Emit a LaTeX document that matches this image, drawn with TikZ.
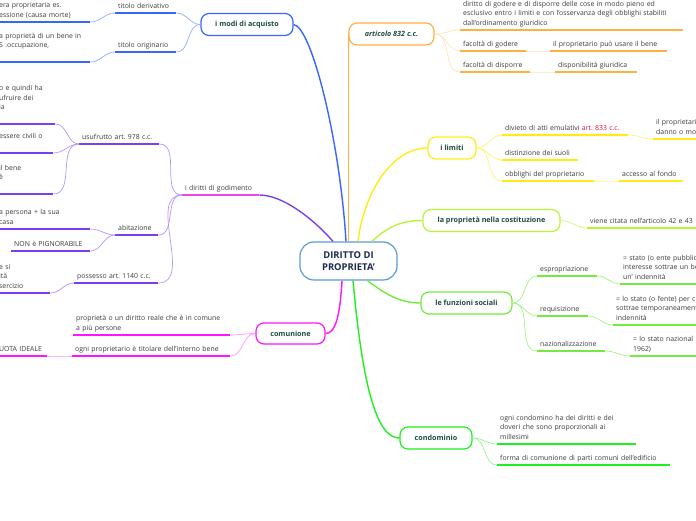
\documentclass[tikz,border=0pt]{standalone}
\usepackage{fontspec}
\setmainfont{Open Sans}
\definecolor{coreblue}{RGB}{91,155,213}
\definecolor{corenavy}{RGB}{26,42,80}
\definecolor{topicgreen}{RGB}{27,77,62}
\definecolor{leafgray}{RGB}{60,60,60}
\definecolor{modiblue}{RGB}{56,100,255}
\definecolor{godviolet}{RGB}{123,63,242}
\definecolor{godpink}{RGB}{238,70,238}
\definecolor{comumag}{RGB}{255,20,255}
\definecolor{artorange}{RGB}{255,176,64}
\definecolor{limyellow}{RGB}{255,236,20}
\definecolor{costlime}{RGB}{182,245,60}
\definecolor{funzgreen}{RGB}{115,235,60}
\definecolor{condgreen}{RGB}{30,240,30}
\definecolor{artred}{RGB}{220,20,60}
\frenchspacing
\begin{document}
\begin{tikzpicture}[x=1pt, y=-1pt,
  topic/.style={draw=#1, line width=1.2pt, rounded corners=8pt, fill=white, minimum height=22pt, inner sep=2pt, font=\fontsize{7.2}{9}\selectfont\bfseries, text=topicgreen},
  leaf/.style={anchor=south west, align=left, inner xsep=3pt, inner ysep=1.8pt, font=\fontsize{6.9}{9.5}\selectfont\frenchspacing, text=leafgray, execute at end node={\strut}},
  uline/.style={draw=#1, line width=2.2pt},
  link/.style={draw=#1, line width=0.7pt},
  trunk/.style={draw=#1, line width=1.4pt}
]
  \useasboundingbox (0,0) rectangle (696,520);
  \clip (0,0) rectangle (696,520);

  % centre
  \node[draw=coreblue, line width=1.2pt, rounded corners=14pt, fill=white, minimum width=97pt, minimum height=38pt, align=center, font=\fontsize{9.4}{12}\selectfont\bfseries, text=corenavy] (core) at (348.5,261) {DIRITTO DI\\PROPRIETA'};

  % topics
  \node[topic=modiblue, minimum width=92pt] (modi) at (247,24.5) {i modi di acquisto};
  \node[topic=comumag, minimum width=69pt, minimum height=21pt] (comu) at (290.5,333.5) {comunione};
  \node[topic=artorange, minimum width=85pt, font=\fontsize{7.2}{9}\selectfont\bfseries\itshape] (art) at (391.5,34) {articolo 832 c.c.};
  \node[topic=limyellow, minimum width=48pt] (limiti) at (452,148) {i limiti};
  \node[topic=costlime, minimum width=137pt] (cost) at (491.5,220.5) {la proprietà nella costituzione};
  \node[topic=funzgreen, minimum width=91pt] (funz) at (466.5,303) {le funzioni sociali};
  \node[topic=condgreen, minimum width=72pt] (condo) at (436,438) {condominio};

  % i modi di acquisto
  \node[leaf, text width=55pt] (deriv) at (115,13) {titolo derivativo};
  \node[leaf, text width=55pt] (orig) at (115,52) {titolo originario};
  \node[leaf, text width=88pt] (derivA) at (-4,22) {era proprietaria es.\\essione (causa morte)};
  \node[leaf, text width=88pt] (origA) at (-4,62) {a proprietà di un bene in\\S .occupazione,\\ ~};

  % i diritti di godimento
  \node[leaf, text width=71pt] (godim) at (182,195) {i diritti di godimento};
  \node[leaf, text width=74pt] (usuf) at (79,144) {usufrutto art. 978 c.c.};
  \node[leaf, text width=37pt] (abit) at (115,235) {abitazione};
  \node[leaf, text width=78pt] (poss) at (74,283) {possesso art. 1140 c.c.};
  \node[leaf, text width=53pt] (usufA) at (-4,124) {o e quindi ha\\ufruire dei\\ia\\ ~};
  \node[leaf, text width=51pt] (usufB) at (-4,153) {essere civili o\\ ~};
  \node[leaf, text width=51pt] (usufC) at (-4,194) {il bene\\è\\ ~};
  \node[leaf, text width=88pt] (abitA) at (-4,229) {a persona + la sua\\casa};
  \node[leaf, text width=73pt] (abitB) at (11,251) {NON è PIGNORABILE};
  \node[leaf, text width=48pt] (possA) at (-4,293) {e si\\ità\\sercizio};

  % comunione
  \node[leaf, text width=151pt] (comuA) at (73,335) {proprietà o un diritto reale che è in comune\\a più persone};
  \node[leaf, text width=152pt] (comuB) at (72,356) {ogni proprietario è titolare dell'interno bene};
  \node[leaf, text width=45pt] (quota) at (-4,356) {UOTA IDEALE};

  % articolo 832 c.c.
  \node[leaf, text width=217pt] (artA) at (460,30) {diritto di godere e di disporre delle cose in modo pieno ed\\esclusivo entro i limiti e con l'osservanza degli obblighi stabiliti\\dall'ordinamento giuridico};
  \node[leaf, text width=60pt] (artB) at (460,51) {facoltà di godere};
  \node[leaf, text width=111pt] (artBa) at (550,51) {il proprietario può usare il bene};
  \node[leaf, text width=64pt] (artC) at (460,72) {facoltà di disporre};
  \node[leaf, text width=76pt] (artCa) at (555,72) {disponibilità giuridica};

  % i limiti
  \node[leaf, text width=120pt] (limA) at (502,135) {divieto di atti emulativi \textcolor{artred}{art. 833 c.c.}};
  \node[leaf, text width=74pt] (limAa) at (653,139) {il proprietario\\danno o mo};
  \node[leaf, text width=70pt] (limB) at (502,160) {distinzione dei suoli};
  \node[leaf, text width=86pt] (limC) at (502,181) {obblighi del proprietario};
  \node[leaf, text width=58pt] (limCa) at (619,181) {accesso al fondo};

  % costituzione
  \node[leaf, text width=124pt] (costA) at (587,228) {viene citata nell'articolo 42 e 43};

  % funzioni sociali
  \node[leaf, text width=54pt] (funzA) at (537,276) {espropriazione};
  \node[leaf, text width=94pt] (funzAa) at (620,284) {= stato (o ente pubblico)\\interesse sottrae un bene\\un' indennità};
  \node[leaf, text width=45pt] (funzB) at (537,316) {requisizione};
  \node[leaf, text width=104pt] (funzBa) at (613,325) {= lo stato (o l'ente) per c\\sottrae temporaneamente\\indennità};
  \node[leaf, text width=62pt] (funzC) at (537,351) {nazionalizzazione};
  \node[leaf, text width=84pt] (funzCa) at (630,356) {= lo stato nazional\\1962)};

  % condominio
  \node[leaf, text width=133pt] (condA) at (497,444) {ogni condomino ha dei diritti e dei\\doveri che sono proporzionali ai\\millesimi};
  \node[leaf, text width=167pt] (condB) at (497,465) {forma di comunione di parti comuni dell'edificio};

  % underlines
  \foreach \n in {deriv,orig,derivA,origA}
    \draw[uline=modiblue] (\n.south west) -- (\n.south east);
  \foreach \n in {usuf,abit,poss,usufA,usufB,usufC,abitA,abitB,possA}
    \draw[uline=godviolet] (\n.south west) -- (\n.south east);
  \draw[uline=godpink] (godim.south west) -- (godim.south east);
  \foreach \n in {comuA,comuB,quota}
    \draw[uline=comumag] (\n.south west) -- (\n.south east);
  \foreach \n in {artA,artB,artBa,artC,artCa}
    \draw[uline=artorange] (\n.south west) -- (\n.south east);
  \foreach \n in {limA,limAa,limB,limC,limCa}
    \draw[uline=limyellow] (\n.south west) -- (\n.south east);
  \draw[uline=costlime] (costA.south west) -- (costA.south east);
  \foreach \n in {funzA,funzAa,funzB,funzBa,funzC,funzCa}
    \draw[uline=funzgreen] (\n.south west) -- (\n.south east);
  \foreach \n in {condA,condB}
    \draw[uline=condgreen] (\n.south west) -- (\n.south east);

  % links to the left
  \foreach \a/\b in {modi.west/deriv, modi.west/orig, deriv.south west/derivA, orig.south west/origA}
    \draw[link=modiblue!55] (\a) to[out=180,in=0] (\b.south east);
  \foreach \a/\b in {godim.south west/usuf, godim.south west/abit, godim.south west/poss, usuf.south west/usufA, usuf.south west/usufB, usuf.south west/usufC, abit.south west/abitA, abit.south west/abitB, poss.south west/possA}
    \draw[link=godviolet!55] (\a) to[out=180,in=0] (\b.south east);
  \foreach \a/\b in {comu.west/comuA, comu.west/comuB, comuB.south west/quota}
    \draw[link=comumag!45] (\a) to[out=180,in=0] (\b.south east);

  % links to the right
  \foreach \a/\b in {art.east/artA, art.east/artB, art.east/artC, artB.south east/artBa, artC.south east/artCa}
    \draw[link=artorange!35] (\a) to[out=0,in=180] (\b.south west);
  \foreach \a/\b in {limiti.east/limA, limiti.east/limB, limiti.east/limC, limA.south east/limAa, limC.south east/limCa}
    \draw[link=limyellow!60] (\a) to[out=0,in=180] (\b.south west);
  \draw[link=costlime!70] (cost.east) to[out=0,in=180] (costA.south west);
  \foreach \a/\b in {funz.east/funzA, funz.east/funzB, funz.east/funzC, funzA.south east/funzAa, funzB.south east/funzBa, funzC.south east/funzCa}
    \draw[link=funzgreen!65] (\a) to[out=0,in=180] (\b.south west);
  \foreach \a/\b in {condo.east/condA, condo.east/condB}
    \draw[link=condgreen!50] (\a) to[out=0,in=180] (\b.south west);

  % trunks from the centre
  \draw[trunk=modiblue] (modi.east) .. controls +(18,2) and +(-6,-100) .. ([xshift=-2.5pt]core.north);
  \draw[trunk=artorange] (core.north) |- (art.west);
  \draw[trunk=godviolet] (godim.south east) .. controls +(22,0) and +(-22,-25) .. ([xshift=-15.5pt]core.north);
  \draw[trunk=limyellow] ([xshift=9.5pt]core.north) .. controls +(6,-50) and +(-35,0) .. (limiti.west);
  \draw[trunk=costlime] ([xshift=23.5pt]core.north) .. controls +(15,-14) and +(-22,0) .. (cost.west);
  \draw[trunk=funzgreen] ([xshift=19pt]core.south) .. controls +(16,12) and +(-22,0) .. (funz.west);
  \draw[trunk=comumag] ([xshift=-6.5pt]core.south) .. controls +(-2,35) and +(10,0) .. (comu.east);
  \draw[trunk=condgreen] ([xshift=4.5pt]core.south) .. controls +(10,110) and +(-22,0) .. (condo.west);
\end{tikzpicture}
\end{document}
